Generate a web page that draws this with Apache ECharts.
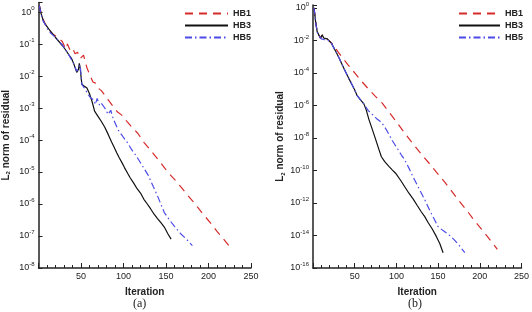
<!DOCTYPE html>
<html>
<head>
<meta charset="utf-8">
<script src="https://cdn.jsdelivr.net/npm/echarts@6/dist/echarts.min.js"></script>
<style>
  html, body { margin: 0; padding: 0; background: #fff; }
  #chart { width: 532px; height: 312px; }
</style>
</head>
<body>
<div id="chart"></div>
<script>
// series names
const names = ["HB1", "HB3", "HB5"];
const xTicks = [50, 100, 150, 200, 250];

// panel (a): [iteration, L2 residual]
const hb1Left = [[1,1.6],[4,0.75],[8,0.42],[12,0.28],[16,0.21],[20,0.18],[22,0.17],[25,0.14],[28,0.12],[30,0.11],[32,0.07],[34,0.1],[37,0.065],[40,0.075],[43,0.05],[46,0.055],[49,0.035],[53,0.045],[57,0.018],[61,0.01],[64,6.5e-3],[67,6e-3],[70,4.2e-3],[74,3.5e-3],[78,2.5e-3],[82,1.8e-3],[88,1.1e-3],[93,7.5e-4],[98,6e-4],[104,3.8e-4],[110,2.5e-4],[117,1.6e-4],[124,8.5e-5],[130,5.5e-5],[136,3.5e-5],[144,1.9e-5],[152,1.0e-5],[160,5.9e-6],[168,3.3e-6],[176,1.8e-6],[183,1.1e-6],[192,5.5e-7],[202,2.6e-7],[210,1.4e-7],[218,7.8e-8],[224,5e-8]];
const hb3Left = [[1,1.6],[3,0.9],[6,0.5],[9,0.38],[12,0.3],[16,0.22],[20,0.16],[24,0.12],[28,0.09],[30,0.08],[32,0.065],[34,0.07],[36,0.045],[39,0.035],[42,0.022],[45,0.013],[47,0.016],[48,0.025],[49,0.018],[51,5.5e-3],[54,4.8e-3],[57,4.2e-3],[60,2.8e-3],[63,1.6e-3],[66,8e-4],[70,5.5e-4],[74,3.8e-4],[78,2.5e-4],[82,1.5e-4],[86,8.7e-5],[89,5.9e-5],[92,4e-5],[95,2.8e-5],[98,2e-5],[101,1.4e-5],[105,9e-6],[108,6.5e-6],[112,4.5e-6],[114,4.2e-6],[116,3e-6],[120,2.2e-6],[124,1.4e-6],[126,1.3e-6],[128,1e-6],[132,7e-7],[136,4.8e-7],[140,3.5e-7],[142,3.2e-7],[144,2.6e-7],[148,1.9e-7],[152,1.2e-7],[156,8e-8]];
const hb5Left = [[1,1.6],[3,0.85],[5,0.56],[8,0.4],[12,0.25],[16,0.2],[20,0.16],[24,0.12],[28,0.095],[32,0.065],[35,0.05],[38,0.035],[40,0.03],[42,0.028],[45,0.014],[47,0.018],[49,0.022],[51,5.5e-3],[55,3.8e-3],[59,2.5e-3],[62,2e-3],[65,1.8e-3],[67,1.3e-3],[69,2e-3],[72,1.2e-3],[74,1.4e-3],[78,1e-3],[82,6.3e-4],[85,8.5e-4],[88,4.5e-4],[94,2e-4],[100,1.2e-4],[105,8e-5],[110,4.8e-5],[115,3.2e-5],[122,1.6e-5],[129,8e-6],[135,3.5e-6],[140,1.8e-6],[148,5.4e-7],[154,3.2e-7],[160,2e-7],[167,1.2e-7],[174,8e-8],[181,5e-8]];

// panel (b): [iteration, L2 residual]
const hb1Right = [[1,1.0],[2,0.5],[3,0.16],[5,0.035],[7,0.028],[9,0.0135],[11,0.022],[13,0.014],[15,0.0107],[17,0.0126],[19,0.0112],[22,7.1e-3],[25,5e-3],[30,2e-3],[36,7.9e-4],[42,3.2e-4],[50,1e-4],[58,3.2e-5],[66,1.1e-5],[74,4e-6],[83,1.4e-6],[91,4e-7],[100,1e-7],[110,2e-8],[119,5e-9],[130,1e-9],[140,2.5e-10],[148,7.9e-11],[157,2.2e-11],[166,5.6e-12],[175,1.4e-12],[185,3.2e-13],[193,8.9e-14],[202,2.5e-14],[212,5.6e-15],[221,1.4e-15]];
const hb3Right = [[1,1.0],[2,0.5],[3,0.16],[5,0.035],[7,0.028],[9,0.0135],[11,0.022],[13,0.014],[15,0.0107],[17,0.0126],[19,0.0112],[22,6.8e-3],[25,3.5e-3],[28,1.8e-3],[31,8.9e-4],[35,3.2e-4],[39,1.2e-4],[43,4.5e-5],[47,1.8e-5],[50,8.9e-6],[53,4e-6],[57,2.2e-6],[61,1.26e-6],[64,5e-7],[67,1.4e-7],[71,3.5e-8],[75,8.5e-9],[79,2e-9],[82,7e-10],[86,3.5e-10],[91,1.8e-10],[95,1.1e-10],[99,6.8e-11],[105,2.5e-11],[110,1e-11],[115,4e-12],[120,1.8e-12],[125,7e-13],[130,2.8e-13],[134,1.45e-13],[138,6.3e-14],[143,2.5e-14],[148,8.5e-15],[152,3.2e-15],[156,8.7e-16]];
const hb5Right = [[1,1.0],[2,0.5],[3,0.16],[5,0.032],[7,0.02],[8,0.026],[10,0.0125],[12,0.016],[14,0.011],[16,0.0135],[18,0.0105],[20,0.0118],[22,7e-3],[25,3.5e-3],[28,1.8e-3],[31,8.9e-4],[35,3.2e-4],[39,1.2e-4],[43,4.5e-5],[47,1.8e-5],[50,8.9e-6],[53,4e-6],[57,2.2e-6],[61,1.26e-6],[66,5e-7],[71,2.8e-7],[76,1.6e-7],[80,1.1e-7],[83,7.9e-8],[88,3.2e-8],[95,7e-9],[100,2.8e-9],[106,8.9e-10],[110,4.5e-10],[115,1.4e-10],[120,4e-11],[125,1.26e-11],[130,4e-12],[135,1.26e-12],[140,3.5e-13],[145,1.1e-13],[150,3.5e-14],[156,2e-14],[164,1e-14],[170,5e-15],[176,2.2e-15],[182,8.7e-16]];

const FONT = "'Liberation Sans', Arial, sans-serif";
const INK = "#222";
const colors = { HB1: "#d62b2b", HB3: "#111111", HB5: "#4b4be6" };
const dashes = { HB1: [8, 6], HB3: "solid", HB5: [7, 3, 1.5, 3] };

function powLabel(v) {
  const e = Math.log10(v);
  const r = Math.round(e);
  if (Math.abs(e - r) > 1e-6) return "";
  return "{b|10}{s|" + r + "}";
}
const supRich = {
  b: { fontSize: 9, fontFamily: FONT, color: INK },
  s: { fontSize: 6, fontFamily: FONT, color: INK, padding: [0, 0, 7, 0] }
};

function makeX(gridIndex) {
  return {
    type: "value", gridIndex, min: 0, max: 250, interval: 50,
    name: "Iteration", nameLocation: "middle", nameGap: 19,
    nameTextStyle: { fontFamily: FONT, fontWeight: "bold", fontSize: 10, color: INK },
    axisLine: { lineStyle: { color: INK, width: 1.5 } },
    axisTick: { inside: true, length: 5, lineStyle: { color: INK } },
    minorTick: { show: true, splitNumber: 5, length: 3, lineStyle: { color: INK } },
    splitLine: { show: false },
    axisLabel: {
      fontFamily: FONT, fontSize: 9, color: INK, margin: 4,
      formatter: (v) => (xTicks.includes(v) ? String(v) : "")
    }
  };
}
function makeY(gridIndex, min, max, interval) {
  return {
    type: "log", gridIndex, min, max, interval, logBase: 10,
    name: "{n|L}{u|2}{n| norm of residual}", nameLocation: "middle", nameGap: 27, nameRotate: 90,
    nameTextStyle: {
      rich: {
        n: { fontFamily: FONT, fontWeight: "bold", fontSize: 10, color: INK },
        u: { fontFamily: FONT, fontWeight: "bold", fontSize: 6, color: INK, padding: [5, 0, 0, 0] }
      }
    },
    axisLine: { lineStyle: { color: INK, width: 1.5 } },
    axisTick: { inside: true, length: 4, lineStyle: { color: INK } },
    splitLine: { show: false },
    axisLabel: { formatter: powLabel, rich: supRich, margin: 4 }
  };
}

function makeSeries(name, data, idx) {
  return {
    name, type: "line", data, xAxisIndex: idx, yAxisIndex: idx,
    symbol: "none", smooth: false,
    lineStyle: { color: colors[name], width: 1.2, type: dashes[name] },
    itemStyle: { color: colors[name] }
  };
}

const legendBase = {
  orient: "vertical", padding: 0, itemHeight: 8, itemGap: 3,
  data: names, selectedMode: false,
  itemStyle: { opacity: 0 },
  textStyle: { fontFamily: FONT, fontWeight: "bold", fontSize: 9, color: INK }
};

const chart = echarts.init(document.getElementById("chart"), null, { renderer: "canvas" });
chart.setOption({
  animation: false,
  backgroundColor: "#fff",
  grid: [
    { left: 36, top: 2.4, width: 215, height: 265.6 },
    { left: 313, top: 5.1, width: 212, height: 262.9 }
  ],
  xAxis: [makeX(0), makeX(1)],
  yAxis: [makeY(0, 1e-8, 2, 1), makeY(1, 1e-16, 1.5, 2)],
  legend: [
    Object.assign({}, legendBase, { left: 184, top: 9, itemWidth: 43 }),
    Object.assign({}, legendBase, { left: 458, top: 9, itemWidth: 41 })
  ],
  graphic: [
    { type: "text", left: 133, top: 298, style: { text: "(a)", font: "12px 'Liberation Serif', serif", fill: INK } },
    { type: "text", left: 408, top: 298, style: { text: "(b)", font: "12px 'Liberation Serif', serif", fill: INK } }
  ],
  series: [
    makeSeries("HB1", hb1Left, 0),
    makeSeries("HB3", hb3Left, 0),
    makeSeries("HB5", hb5Left, 0),
    makeSeries("HB1", hb1Right, 1),
    makeSeries("HB3", hb3Right, 1),
    makeSeries("HB5", hb5Right, 1)
  ]
});
</script>
</body>
</html>
